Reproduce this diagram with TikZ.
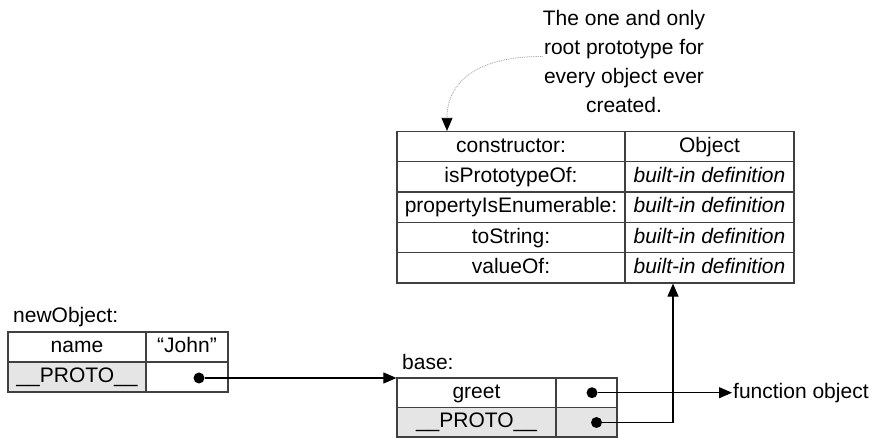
\documentclass[tikz,border=0pt]{standalone}
\usepackage{fontspec}
\setmainfont{Liberation Sans}
\usetikzlibrary{arrows.meta}

\begin{document}
\begin{tikzpicture}[x=1pt,y=-1pt,
    every node/.style={font=\fontsize{21}{29}\selectfont},
    cell/.style={draw=black!75,line width=1.2pt,inner sep=0pt,
                 text height=15pt,text depth=4pt},
    shade/.style={cell,fill=black!10},
    dot/.style={circle,fill=black,inner sep=0pt,minimum size=11pt},
    link/.style={line width=1.1pt,-{Triangle[length=13pt,width=11pt]}}]
\useasboundingbox (0,0) rectangle (871,438);

%Define table sizes
\def\rh{30.3}        %Row height of the root table.
\def\kw{228}         %Key column width of the root table.
\def\vw{169}         %Value column width of the root table.

% Note above the root table
\node[align=center,inner sep=0pt] (note) at (624,61.5)
  {The one and only\\root prototype for\\every object ever\\created.};

% Root prototype table
\foreach \k/\key/\val in {1/constructor:/Object,
    2/isPrototypeOf:/\textit{built-in definition},
    3/propertyIsEnumerable:/\textit{built-in definition},
    4/toString:/\textit{built-in definition},
    5/valueOf:/\textit{built-in definition}}{
  \node[cell,minimum width=\kw,minimum height=\rh] (key\k) at (511,{131.5+(\k-0.5)*\rh}) {\key};
  \node[cell,minimum width=\vw,minimum height=\rh] (val\k) at (709.5,{131.5+(\k-0.5)*\rh}) {\val};
}

% newObject table
\node[anchor=west,inner sep=0pt] (nlabel) at (13,317) {newObject:};
\node[cell,minimum width=138,minimum height=30] (nname) at (77,347) {name};
\node[cell,minimum width=82,minimum height=30] (njohn) at (187,347) {``John''};
\node[shade,minimum width=138,minimum height=30] (nproto) at (77,377) {\_\_PROTO\_\_};
\node[cell,minimum width=82,minimum height=30] (nptr) at (187,377) {};

% base table
\node[anchor=west,inner sep=0pt] (blabel) at (402,362) {base:};
\node[cell,minimum width=159,minimum height=29.5] (bgreet) at (476.5,392.7) {greet};
\node[cell,minimum width=61,minimum height=29.5] (bfun) at (586.5,392.7) {};
\node[shade,minimum width=159,minimum height=29.5] (bproto) at (476.5,422.2) {\_\_PROTO\_\_};
\node[shade,minimum width=61,minimum height=29.5] (bptr) at (586.5,422.2) {};

\node[anchor=west,inner sep=1pt] (fobj) at (732,392.7) {function object};

% Pointer dots
\node[dot] (dotn) at (199,378) {};
\node[dot] (dotg) at (592,392.7) {};
\node[dot] (dotp) at (596.5,422.5) {};

% Connectors
\draw[link] (dotn) -- (dotn -| bgreet.north west);
\draw[link] (dotg) -- (fobj.west);
\draw[link] (dotp) -| ([xshift=-36.5pt]val5.south);
\draw[densely dotted,gray!80,line width=0.8pt,-{Triangle[length=13pt,width=11pt,black]}]
  ([yshift=5pt]note.west) .. controls (480,56) and (447,80) .. ([xshift=-64pt]key1.north);

\end{tikzpicture}
\end{document}
